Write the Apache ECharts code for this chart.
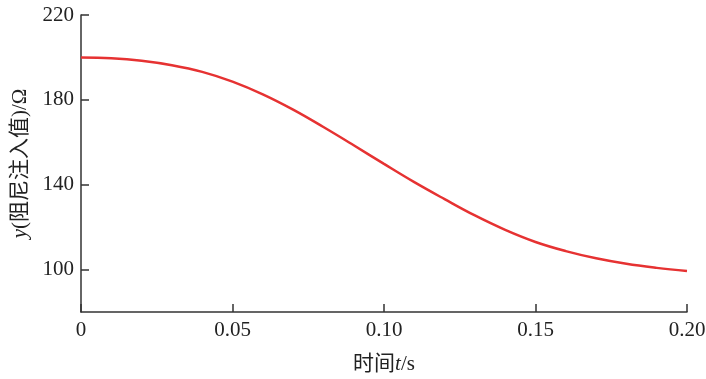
<!DOCTYPE html>
<html>
<head>
<meta charset="utf-8">
<script src="https://cdn.jsdelivr.net/npm/echarts@6/dist/echarts.min.js"></script>
<style>html,body{margin:0;padding:0;background:#fff;}#c{width:706px;height:379px;}</style>
</head>
<body>
<div id="c"></div>
<script>
var times = [0, 0.01, 0.02, 0.03, 0.04, 0.05, 0.06, 0.07, 0.08, 0.09, 0.10, 0.11, 0.12, 0.13, 0.14, 0.15, 0.16, 0.17, 0.18, 0.19, 0.20];
var values = [200, 199.6, 198.4, 196.3, 193.2, 188.6, 182.6, 175.4, 167.2, 158.6, 149.8, 141.2, 133.2, 125.5, 118.7, 113.0, 108.7, 105.3, 102.7, 100.8, 99.3];
var xTicks = [0, 0.05, 0.10, 0.15, 0.20];
var xTickLabels = ['0', '0.05', '0.10', '0.15', '0.20'];
var yTicks = [100, 140, 180, 220];

var serif = '"Liberation Serif", "Noto Sans CJK SC", serif';
var chart = echarts.init(document.getElementById('c'));
chart.setOption({
  animation: false,
  backgroundColor: '#fff',
  grid: { left: 81, right: 19, top: 15, bottom: 67, containLabel: false, outerBoundsMode: 'none' },
  xAxis: {
    type: 'value', min: 0, max: 0.2,
    name: '时间{i|t}/s', nameLocation: 'middle', nameGap: 42,
    nameTextStyle: { fontFamily: serif, fontSize: 21, color: '#222',
      rich: { i: { fontFamily: serif, fontStyle: 'italic', fontSize: 21, color: '#222' } } },
    axisLine: { show: true, lineStyle: { color: '#333', width: 1.5 } },
    axisTick: { show: true, inside: true, length: 8, customValues: xTicks, lineStyle: { color: '#333', width: 1.5 } },
    axisLabel: { customValues: xTicks, margin: 8, fontFamily: serif, fontSize: 21, color: '#222',
      formatter: function (v) { var i = xTicks.indexOf(v); return i >= 0 ? xTickLabels[i] : ''; } },
    splitLine: { show: false }
  },
  yAxis: {
    type: 'value', min: 80, max: 220,
    name: '{i|y}(阻尼注入值)/Ω', nameLocation: 'middle', nameGap: 50, nameRotate: 90,
    nameTextStyle: { fontFamily: serif, fontSize: 21, color: '#222',
      rich: { i: { fontFamily: serif, fontStyle: 'italic', fontSize: 21, color: '#222' } } },
    axisLine: { show: true, lineStyle: { color: '#333', width: 1.5 } },
    axisTick: { show: true, inside: true, length: 8, customValues: yTicks, lineStyle: { color: '#333', width: 1.5 } },
    axisLabel: { customValues: yTicks, margin: 7, fontFamily: serif, fontSize: 21, color: '#222' },
    splitLine: { show: false }
  },
  series: [{
    type: 'line',
    data: times.map(function (t, i) { return [t, values[i]]; }),
    smooth: 0.4,
    showSymbol: false,
    lineStyle: { color: '#e63232', width: 2.5 }
  }]
});
</script>
</body>
</html>
